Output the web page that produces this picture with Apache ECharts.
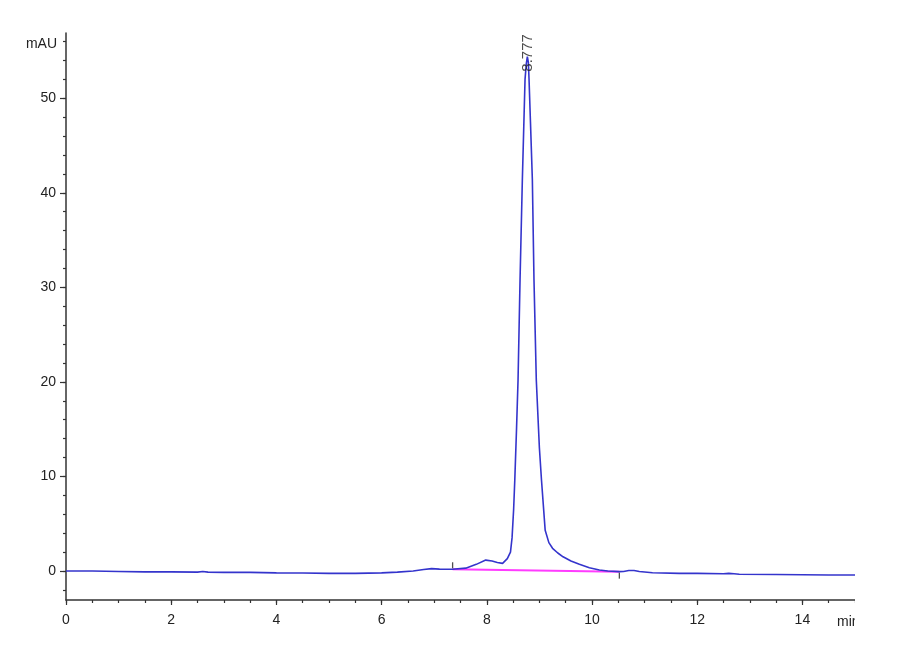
<!DOCTYPE html>
<html>
<head>
<meta charset="utf-8">
<script src="https://cdn.jsdelivr.net/npm/echarts@6/dist/echarts.min.js"></script>
<style>
  html, body { margin: 0; padding: 0; background: #fff; }
  #chart { width: 855px; height: 660px; }
</style>
</head>
<body>
<div id="chart"></div>
<script>
// trace (min, mAU)
var traceTime = [0, 0.5, 1.0, 1.5, 2.0, 2.5, 2.6, 2.7, 3.0, 3.5, 4.0, 4.5, 5.0, 5.5, 6.0,
  6.3, 6.6, 6.8, 6.95, 7.1, 7.35, 7.6, 7.8, 7.98, 8.1, 8.2, 8.3, 8.39, 8.45, 8.48,
  8.51, 8.532, 8.565, 8.594, 8.632, 8.676, 8.727, 8.75, 8.771, 8.79, 8.803, 8.83, 8.866, 8.897, 8.941,
  9.0, 9.04, 9.11, 9.18, 9.25, 9.35, 9.45, 9.6, 9.76, 9.95, 10.14, 10.3, 10.52, 10.6, 10.7,
  10.8, 10.9, 11.15, 11.66, 12.0, 12.5, 12.6, 12.7, 12.8, 13.5, 14.0, 14.5, 15.0];
var traceSignal = [0, 0, -0.05, -0.1, -0.1, -0.12, -0.06, -0.12, -0.15, -0.15, -0.2, -0.22, -0.25, -0.25, -0.2,
  -0.12, 0.0, 0.15, 0.25, 0.2, 0.18, 0.3, 0.7, 1.15, 1.05, 0.9, 0.8, 1.3, 2.0, 3.5,
  6.5, 9.6, 15.0, 20.2, 30.8, 41.4, 52.0, 53.6, 54.4, 53.8, 52.0, 47.5, 41.4, 30.8, 20.2,
  13.0, 9.6, 4.3, 3.0, 2.4, 1.9, 1.5, 1.05, 0.7, 0.35, 0.1, 0.0, -0.07, -0.05, 0.05,
  0.05, -0.05, -0.18, -0.25, -0.25, -0.3, -0.25, -0.3, -0.35, -0.38, -0.4, -0.42, -0.42];

// integration baseline (start, end)
var baselineTime = [7.35, 10.52];
var baselineSignal = [0.18, -0.07];

// peak retention time label
var peakTime = [8.777];
var peakHeight = [54.4];

// axis ticks
var xLabels = [0, 2, 4, 6, 8, 10, 12, 14];
var xMinor = [];
for (var i = 0; i <= 30; i++) xMinor.push(i * 0.5);
var yLabels = [0, 10, 20, 30, 40, 50];
var yMinor = [];
for (var j = -1; j <= 28; j++) yMinor.push(j * 2);

var tracePairs = traceTime.map(function (t, k) { return [t, traceSignal[k]]; });
var basePairs = baselineTime.map(function (t, k) { return [t, baselineSignal[k]]; });

var axisColor = "#333";
var labelFont = "'Liberation Sans', Arial, sans-serif";

var myChart = echarts.init(document.getElementById("chart"));
var option = {
  animation: false,
  grid: { left: 66, right: 0, top: 33, bottom: 60, containLabel: false, outerBoundsMode: "none" },
  xAxis: [
    {
      type: "value",
      min: 0,
      max: 15,
      name: "min",
      nameLocation: "end",
      nameGap: -18,
      nameTextStyle: {
        color: "#222", fontSize: 14, fontFamily: labelFont,
        align: "left", verticalAlign: "top", padding: [15, 0, 0, 0]
      },
      axisLine: { onZero: false, lineStyle: { color: axisColor, width: 1.5 } },
      axisTick: { customValues: xLabels, length: 5, lineStyle: { color: axisColor, width: 1.2 } },
      axisLabel: { customValues: xLabels, color: "#222", fontSize: 14, fontFamily: labelFont, margin: 13 },
      splitLine: { show: false }
    },
    {
      type: "value",
      min: 0,
      max: 15,
      position: "bottom",
      axisLine: { show: false, onZero: false },
      axisTick: { customValues: xMinor, length: 3, lineStyle: { color: axisColor, width: 1.2 } },
      axisLabel: { show: false },
      splitLine: { show: false }
    }
  ],
  yAxis: [
    {
      type: "value",
      min: -3.07,
      max: 56.9,
      name: "mAU",
      nameLocation: "end",
      nameGap: -11,
      nameTextStyle: {
        color: "#222", fontSize: 14, fontFamily: labelFont,
        align: "right", verticalAlign: "middle", padding: [0, 9, 0, 0]
      },
      axisLine: { show: true, onZero: false, lineStyle: { color: axisColor, width: 1.5 } },
      axisTick: { show: true, customValues: yLabels, length: 6, lineStyle: { color: axisColor, width: 1.2 } },
      axisLabel: { customValues: yLabels, color: "#222", fontSize: 14, fontFamily: labelFont, margin: 10 },
      splitLine: { show: false }
    },
    {
      type: "value",
      min: -3.07,
      max: 56.9,
      position: "left",
      axisLine: { show: false, onZero: false },
      axisTick: { show: true, customValues: yMinor, length: 3, lineStyle: { color: axisColor, width: 1.2 } },
      axisLabel: { show: false },
      splitLine: { show: false }
    }
  ],
  series: [
    {
      name: "baseline",
      type: "line",
      data: basePairs,
      symbol: "none",
      lineStyle: { color: "#ff3cff", width: 2 },
      z: 2
    },
    {
      name: "trace",
      type: "line",
      data: tracePairs,
      symbol: "none",
      lineStyle: { color: "#3434cc", width: 1.6 },
      z: 3
    },
    {
      // start / end markers of the integration
      name: "marks",
      type: "scatter",
      data: [
        { value: basePairs[0], symbolOffset: [0, -4] },
        { value: basePairs[1], symbolOffset: [0, 4] }
      ],
      symbol: "rect",
      symbolSize: [1.3, 6],
      itemStyle: { color: "#222" },
      z: 4
    },
    {
      name: "peak",
      type: "scatter",
      data: peakTime.map(function (t, k) { return [t, peakHeight[k]]; }),
      symbolSize: 0,
      label: {
        show: true,
        formatter: function (p) { return p.value[0].toFixed(3); },
        position: "top",
        distance: 0,
        rotate: 90,
        align: "left",
        verticalAlign: "middle",
        offset: [-15, 0],
        color: "#222",
        fontSize: 15,
        fontFamily: labelFont
      },
      z: 5
    }
  ]
};
myChart.setOption(option);
window.addEventListener("resize", function () {
  myChart.resize();
});
</script>
</body>
</html>
